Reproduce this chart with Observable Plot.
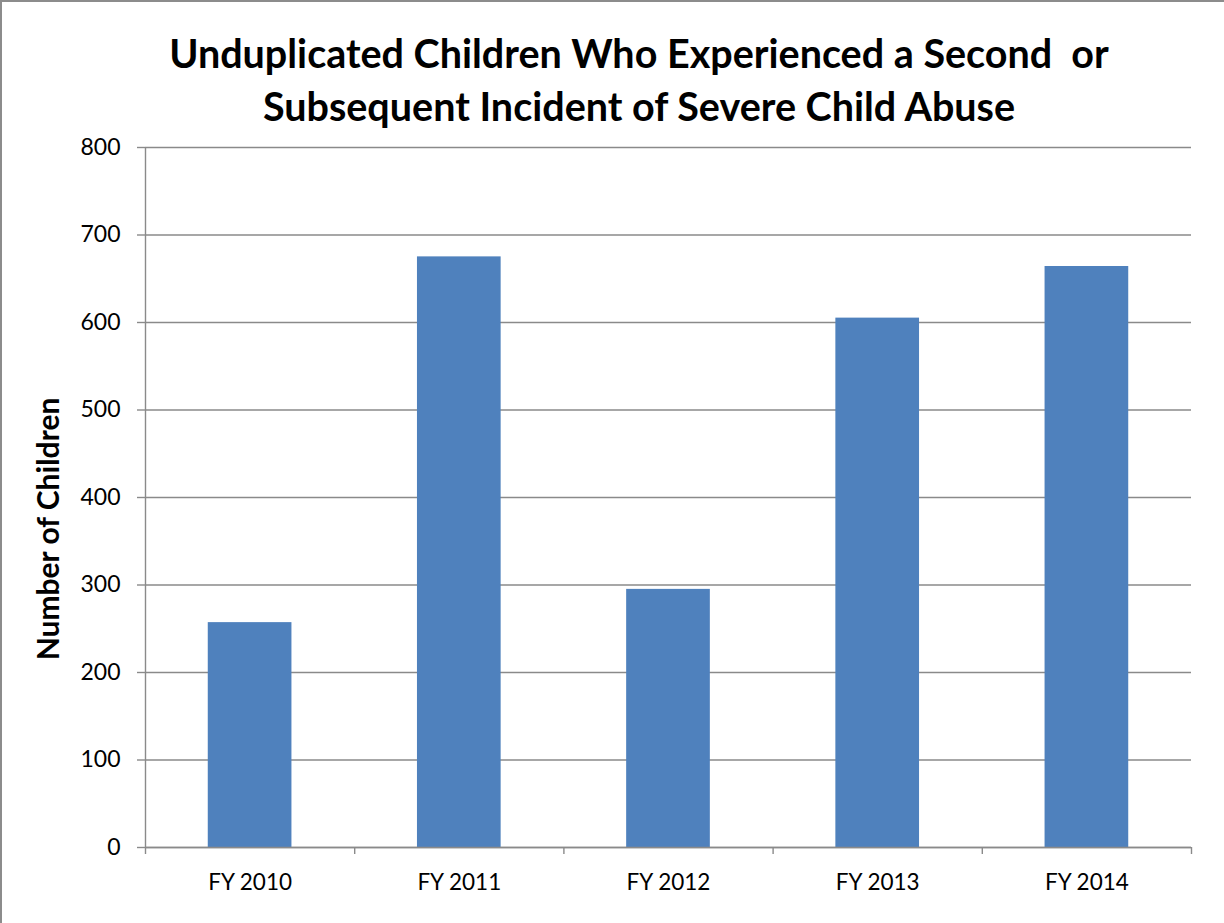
<!DOCTYPE html>
<html>
<head>
<meta charset="utf-8">
<script src="https://cdn.jsdelivr.net/npm/d3@7"></script>
<script src="https://cdn.jsdelivr.net/npm/@observablehq/plot@0.6"></script>
<style>
  html, body { margin: 0; padding: 0; background: #fff; }
  #wrap { position: relative; width: 1224px; height: 923px; overflow: hidden; box-sizing: border-box; border-left: 2px solid #8c8c8c; border-top: 2px solid #8c8c8c; }
  #title { position: absolute; left: 0; width: 1274px; top: 24px; text-align: center; font-family: Lato, sans-serif; font-weight: bold; font-size: 39.5px; line-height: 53px; color: #000; white-space: pre; }
  #ylabel { position: absolute; left: 45px; top: 527px; transform: translate(-50%, -50%) rotate(-90deg); font-family: Lato, sans-serif; font-weight: bold; font-size: 30px; white-space: nowrap; color: #000; }
  #chart { position: absolute; left: -2px; top: -2px; }
</style>
</head>
<body>
<div id="wrap">
  <div id="chart"></div>
  <div id="title">Unduplicated Children Who Experienced a Second  or
Subsequent Incident of Severe Child Abuse</div>
  <div id="ylabel">Number of Children</div>
</div>
<script>
const years = ["FY 2010", "FY 2011", "FY 2012", "FY 2013", "FY 2014"];
const counts = [257, 675, 295, 605, 664];
const yTicks = [0, 100, 200, 300, 400, 500, 600, 700, 800];

const data = years.map((year, i) => ({year, value: counts[i], i}));
const gray = "#8a8a8a";

const chart = Plot.plot({
  width: 1224,
  height: 923,
  marginLeft: 145,
  marginTop: 147,
  marginRight: 33,
  marginBottom: 76,
  style: {fontFamily: "Lato, sans-serif", fontSize: "23px", color: "#000", background: "transparent"},
  x: {domain: [0, years.length], axis: null},
  y: {domain: [0, 800], axis: null},
  marks: [
    Plot.gridY(yTicks, {stroke: gray, strokeOpacity: 1, strokeWidth: 1.4}),
    Plot.rectY(data, {x1: d => d.i + 0.3, x2: d => d.i + 0.7, y: "value", fill: "#4F81BD"}),
    Plot.ruleX([0], {stroke: gray, strokeWidth: 1.4}),
    Plot.ruleY([0], {stroke: gray, strokeWidth: 1.4}),
    Plot.axisY({ticks: yTicks, tickSize: 8, tickPadding: 17, stroke: gray, strokeWidth: 1.4, label: null, fontSize: 23, fill: "#000"}),
    Plot.axisX({ticks: d3.range(years.length + 1), tickSize: 7, tickFormat: () => "", stroke: gray, strokeWidth: 1.4, label: null}),
    Plot.text(data, {x: d => d.i + 0.5, y: 0, text: "year", dy: 35, fontSize: 22.5, fill: "#000"})
  ]
});
document.getElementById("chart").appendChild(chart);
</script>
</body>
</html>
